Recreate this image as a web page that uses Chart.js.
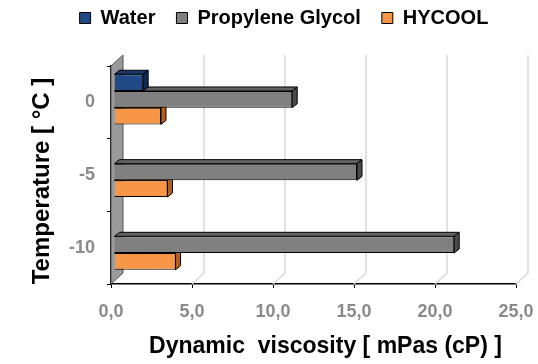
<!DOCTYPE html>
<html>
<head>
<meta charset="utf-8">
<script src="https://cdn.jsdelivr.net/npm/chart.js@4"></script>
<style>
  html, body { margin: 0; padding: 0; background: #fff; }
  #wrap { width: 538px; height: 364px; }
</style>
</head>
<body>
<div id="wrap"><canvas id="myChart" width="538" height="364"></canvas></div>
<script>
// data
const temperatures = ["0", "-5", "-10"];
const water = [1.8, null, null];
const propyleneGlycol = [11.0, 15.0, 21.0];
const hycool = [2.9, 3.3, 3.8];
const xTicks = [0, 5, 10, 15, 20, 25];

// fake 3d depth
const DX = 12, DY = 11;
const BAR_DX = 5, BAR_DY = 4;

const sideColors = {
  Water: ["#17386a", "#0f2850"],
  "Propylene Glycol": ["#626262", "#4a4a4a"],
  HYCOOL: ["#d47b33", "#b06226"],
};

// shift a drawTitle call (titles in the original are centred on the 3d box)
function shiftTitle(scale, dx, dy) {
  if (scale._shifted) return;
  const orig = scale.drawTitle.bind(scale);
  scale.drawTitle = function () {
    this.ctx.save();
    this.ctx.translate(dx, dy);
    orig();
    this.ctx.restore();
  };
  scale._shifted = true;
}

const depth3d = {
  id: "depth3d",
  afterLayout(chart) {
    // legend sits higher and a bit to the right in the original
    const lg = chart.legend;
    lg.left += 12;
    lg.right += 12;
    lg.top -= 28;
    lg.bottom -= 28;
    shiftTitle(chart.scales.x, 12, 0);
    shiftTitle(chart.scales.y, 0, 6);
  },
  beforeDatasetsDraw(chart) {
    const ctx = chart.ctx;
    const { left, right, top, bottom } = chart.chartArea;
    const xs = chart.scales.x;

    // back gridlines + floor stubs
    ctx.save();
    ctx.strokeStyle = "#d9d9d9";
    ctx.lineWidth = 1.5;
    xTicks.forEach((v) => {
      if (v === 0) return;
      const x = xs.getPixelForValue(v);
      ctx.beginPath();
      ctx.moveTo(x + DX, top - DY);
      ctx.lineTo(x + DX, bottom - DY);
      ctx.lineTo(x, bottom);
      ctx.stroke();
    });

    // left wall
    ctx.beginPath();
    ctx.moveTo(left, bottom);
    ctx.lineTo(left, top);
    ctx.lineTo(left + DX, top - DY);
    ctx.lineTo(left + DX, bottom - DY);
    ctx.closePath();
    ctx.fillStyle = "#9a9a9a";
    ctx.fill();
    ctx.strokeStyle = "#555";
    ctx.lineWidth = 1;
    ctx.stroke();
    ctx.restore();

    // bars sit a little back from the front plane
    ctx.save();
    ctx.translate(3, -3);
  },
  afterDatasetDraw(chart, args) {
    const ctx = chart.ctx;
    const meta = args.meta;
    const cols = sideColors[meta.label] || ["#666", "#444"];
    meta.data.forEach((el, i) => {
      const v = chart.data.datasets[args.index].data[i];
      if (v === null || v === undefined) return;
      const p = el.getProps(["x", "y", "base", "height"], true);
      const x0 = Math.min(p.base, p.x), x1 = Math.max(p.base, p.x);
      const y0 = p.y - p.height / 2, y1 = p.y + p.height / 2;
      ctx.save();
      ctx.lineWidth = 1;
      ctx.strokeStyle = "#000";
      // top face
      ctx.beginPath();
      ctx.moveTo(x0, y0);
      ctx.lineTo(x0 + BAR_DX, y0 - BAR_DY);
      ctx.lineTo(x1 + BAR_DX, y0 - BAR_DY);
      ctx.lineTo(x1, y0);
      ctx.closePath();
      ctx.fillStyle = cols[0];
      ctx.fill();
      ctx.stroke();
      // right face
      ctx.beginPath();
      ctx.moveTo(x1, y0);
      ctx.lineTo(x1 + BAR_DX, y0 - BAR_DY);
      ctx.lineTo(x1 + BAR_DX, y1 - BAR_DY);
      ctx.lineTo(x1, y1);
      ctx.closePath();
      ctx.fillStyle = cols[1];
      ctx.fill();
      ctx.stroke();
      ctx.restore();
    });
  },
  afterDatasetsDraw(chart) {
    chart.ctx.restore();
  },
};

const ctx = document.getElementById("myChart").getContext("2d");
Chart.defaults.font.family = "'Liberation Sans', Arial, sans-serif";

const myChart = new Chart(ctx, {
  type: "bar",
  data: {
    labels: temperatures,
    datasets: [
      {
        label: "Water",
        data: water,
        backgroundColor: "#1f4a86",
        borderColor: "#000",
        borderWidth: 1,
      },
      {
        label: "Propylene Glycol",
        data: propyleneGlycol,
        backgroundColor: "#808080",
        borderColor: "#000",
        borderWidth: 1,
      },
      {
        label: "HYCOOL",
        data: hycool,
        backgroundColor: "#f79646",
        borderColor: "#000",
        borderWidth: 1,
      },
    ],
  },
  options: {
    indexAxis: "y",
    responsive: false,
    animation: false,
    layout: { padding: { left: 28, right: 22, top: 15, bottom: 4 } },
    datasets: {
      bar: { categoryPercentage: 0.69, barPercentage: 1.0 },
    },
    plugins: {
      tooltip: { enabled: false },
      legend: {
        position: "top",
        labels: {
          color: "#000",
          font: { size: 20, weight: "bold" },
          boxWidth: 11,
          boxHeight: 11,
          padding: 21,
        },
      },
    },
    scales: {
      x: {
        min: 0,
        max: 25,
        ticks: {
          stepSize: 5,
          color: "#8a8a8a",
          font: { size: 18, weight: "bold" },
          padding: 13,
          callback: (v) => v.toFixed(1).replace(".", ","),
        },
        grid: {
          drawOnChartArea: false,
          drawTicks: true,
          tickLength: 4,
          color: "#000",
        },
        border: { display: true, color: "#000", width: 1.5 },
        title: {
          display: true,
          text: "Dynamic  viscosity [ mPas (cP) ]",
          color: "#000",
          font: { size: 23, weight: "bold" },
          padding: { top: 4, bottom: 0 },
        },
        afterFit(scale) {
          scale.height = 76;
          // the outer layout padding is enough room for the end labels
          scale.paddingLeft = 0;
          scale.paddingRight = 0;
        },
      },
      y: {
        ticks: {
          color: "#8a8a8a",
          font: { size: 18, weight: "bold" },
          padding: 12,
        },
        grid: {
          drawOnChartArea: false,
          drawTicks: true,
          tickLength: 4,
          color: "#000",
        },
        border: { display: true, color: "#000", width: 1.5 },
        title: {
          display: true,
          text: "Temperature [ °C ]",
          color: "#000",
          font: { size: 24, weight: "bold" },
          padding: { top: 0, bottom: 0 },
        },
        afterFit(scale) {
          scale.width = 83;
        },
      },
    },
  },
  plugins: [depth3d],
});
</script>
</body>
</html>
